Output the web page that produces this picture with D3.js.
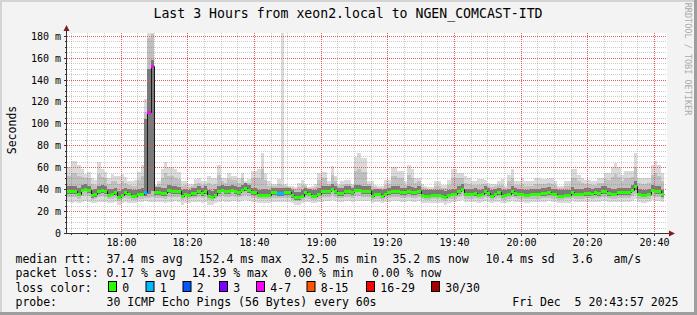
<!DOCTYPE html>
<html>
<head>
<meta charset="utf-8">
<script src="https://cdn.jsdelivr.net/npm/d3@7/dist/d3.min.js"></script>
<style>
body { margin: 0; background: #f3f3f3; }
svg text { font-family: "DejaVu Sans Mono", monospace; fill: #000; white-space: pre; }
</style>
</head>
<body>
<svg id="graph"></svg>
<script>
// one value per minute, 17:44 .. 20:42, milliseconds
var median = [38.5,38.5,38,36,39.5,40.5,39,34.5,35.5,38,
 39,38,35,36,37,33,35,37,36,34,
 34,36,36,37,110,152,37.5,37.5,36.5,36.5,
 39,38,38,38,34,36,35,36.5,36.5,38,
 36.5,38,34,33,35,38,39.5,38,38,39.5,
 38.5,37.5,39.5,41,39,37,37,35,35,35,
 35,37,37,36.5,36.5,37,37,34.5,32.5,32.5,
 34,37,36,34,34,36,38,38,38,40.5,
 38,36.5,36.5,38,38,37,39.5,39.5,38,38.5,
 38,34,36,36,34,36,37,38,38,38,
 37,37,38.5,37.5,37,38.5,35,34,34,35,
 35,35,34,33,35,36,36,38.5,40.5,36,
 36,36,36.5,35,36,38,36.5,34,36,37,
 34,34.5,36,38.5,36.5,36,36,35,35,36,
 36,36,36.5,36.5,37.5,36,36,34,34,35,
 35,37.5,36,36,36,36.5,36.5,36,37,36.5,
 38,38.5,36.5,36,36,37,37,37,37,39.5,
 42.5,36,35,35,36,39.5,38.5,38,35.2];

// smoke: spread of the 30 pings in each minute
var pMin = [28,27,28,27,28,29,28,27,27,28,
 28,28,27,27,28,26,27,28,27,27,
 27,28,28,29,28,28,28,28,28,27,
 28,28,29,28,26,27,27,28,28,28,
 27,28,26,26,27,28,29,28,28,29,
 29,28,29,30,29,28,28,27,27,27,
 27,28,28,28,28,28,28,27,26,26,
 27,28,28,27,27,28,28,29,29,30,
 29,28,28,29,29,28,29,29,29,29,
 29,27,28,28,27,28,28,29,29,29,
 28,28,29,28,28,29,27,27,27,27,
 27,27,27,26,27,28,28,29,30,28,
 28,28,28,27,28,29,28,27,28,28,
 27,27,28,29,28,28,28,27,27,28,
 28,28,28,28,29,28,28,27,27,27,
 27,29,28,28,28,28,28,28,28,28,
 29,29,28,28,28,28,28,28,28,29,
 31,28,27,27,28,30,29,29,28];
var p10 = [33,33,33,31,34,35,34,30,31,33,
 34,33,31,31,32,29,31,32,31,30,
 30,31,31,32,32,33,32,32,32,31,
 33,33,33,33,30,31,31,32,32,33,
 32,33,30,29,31,33,34,33,33,34,
 33,33,34,35,34,32,32,31,31,31,
 31,32,32,32,32,32,32,30,29,29,
 30,32,31,30,30,31,33,33,33,35,
 33,32,32,33,33,32,34,34,33,33,
 33,30,31,31,30,31,32,33,33,33,
 32,32,33,32,32,33,31,30,30,31,
 31,31,30,29,31,31,31,33,35,31,
 31,31,32,31,31,33,32,30,31,32,
 30,30,31,33,32,31,31,31,31,31,
 31,31,32,32,32,31,31,30,30,31,
 31,32,31,31,31,32,32,31,32,32,
 33,33,32,31,31,32,32,32,32,34,
 36,31,31,31,31,34,33,33,31];
var p25 = [36,36,35.5,33.5,37,38,36.5,32,33,35.5,
 36.5,35.5,32.5,33.5,34.5,31,32.5,34.5,33.5,32,
 32,33.5,33.5,34,36,38,35,35,34,34,
 36.5,35.5,35.5,35.5,32,33.5,32.5,34,34,35.5,
 34,35.5,32,31,32.5,35.5,37,35.5,35.5,37,
 36,35,37,38.5,36.5,34.5,34.5,32.5,32.5,32.5,
 32.5,34.5,34.5,34,34,34.5,34.5,32,30.5,30.5,
 32,34.5,33.5,32,32,33.5,35.5,35.5,35.5,38,
 35.5,34,34,35.5,35.5,34.5,37,37,35.5,36,
 35.5,32,33.5,33.5,32,33.5,34.5,35.5,35.5,35.5,
 34.5,34.5,36,35,34.5,36,32.5,32,32,32.5,
 32.5,32.5,32,31,32.5,33.5,33.5,36,38,33.5,
 33.5,33.5,34,32.5,33.5,35.5,34,32,33.5,34.5,
 32,32.5,33.5,36,34,33.5,33.5,32.5,32.5,33.5,
 33.5,33.5,34,34,35,33.5,33.5,32,32,32.5,
 32.5,35,33.5,33.5,33.5,34,34,33.5,34.5,34,
 35.5,36,34,33.5,33.5,34.5,34.5,34.5,34.5,37,
 39.5,33.5,32.5,32.5,33.5,37,36,35.5,32.5];
var p75 = [43,43,42.5,41,43.5,44.5,43,39.5,40,43,
 43.5,42.5,40,40.5,41.5,38,40,41.5,40.5,39,
 39,40.5,41,104,150,158,42,42,41,41.5,
 43.5,42.5,42.5,42,39,40.5,39.5,41,41,42.5,
 41,42.5,39,38,40,42.5,44,42.5,42.5,44,
 43,42,44,45.5,43.5,41.5,41.5,39.5,40,40,
 39.5,41.5,41.5,41,41,41.5,41,39,37.5,37.5,
 39,41.5,40.5,39,39,41,42.5,42.5,42.5,45,
 42.5,41,41,42.5,42.5,41.5,44,44,42.5,43,
 42.5,39,40.5,40.5,39,40.5,41.5,42.5,42.5,42.5,
 41.5,41.5,43,42,41.5,43,39.5,39,39,39.5,
 39.5,39.5,39,38,39.5,40.5,40.5,43,45,40.5,
 40.5,40.5,41,39.5,40.5,42.5,41,39,40.5,41.5,
 39,39.5,40.5,43,41,40.5,40.5,39.5,39.5,40.5,
 40.5,40.5,41,41,42,40.5,40.5,39,39,39.5,
 39.5,42,40.5,40.5,40.5,41,41,40.5,41.5,41,
 42.5,43,41,40.5,40.5,41.5,41.5,41.5,41.5,44,
 47,40.5,39.5,39.5,40.5,44,43,42.5,39.5];
var p90 = [52,55,55,52,51,50,50,45,44,54,
 51,50,45,47,47,45,47,46,44,43,
 43,48,52,110,178,182,43,45,50,55,
 52,52,50,49,43,44,42,43,45,46,
 44,45,46,44,45,53,47,46,49,48,
 48,46,50,46,46,50,50,50,58,48,
 43,43,43,45,44,43,42,41,40,42,
 44,43,41,41,42,48,50,50,45,53,
 47,43,44,45,45,43,57,58,56,56,
 45,43,42,41,41,44,45,52,52,50,
 50,44,53,50,46,47,42,41,40,40,
 43,43,41,41,44,50,50,50,50,46,
 45,44,44,44,45,45,43,42,43,44,
 44,41,47,50,44,44,45,43,43,43,
 45,45,45,45,46,45,44,41,41,43,
 43,50,50,47,46,45,45,44,44,46,
 46,49,48,51,54,51,47,50,50,51,
 60,46,45,45,46,53,55,52,47];
var pMax = [60,66,66,62,58,54,56,50,48,65,
 58,56,50,54,52,52,54,51,47,47,
 48,56,62,122,190,190,44,47,58,65,
 60,60,58,56,47,47,45,45,49,50,
 47,47,52,50,50,62,50,50,55,52,
 52,50,55,47,49,57,57,58,73,55,
 47,45,45,49,190,45,43,43,42,46,
 48,45,42,43,45,55,56,56,47,61,
 52,45,47,48,48,45,69,73,68,68,
 47,47,44,43,43,48,48,60,60,57,
 57,47,62,58,50,50,45,43,42,42,
 47,47,44,44,48,58,58,55,55,52,
 50,47,47,49,49,48,46,45,45,47,
 49,43,53,58,47,47,50,47,47,47,
 50,50,49,49,50,50,47,43,43,47,
 47,58,58,53,50,48,48,47,47,50,
 50,55,55,60,64,60,53,57,57,57,
 73,50,50,50,50,62,66,62,55];

// [minute index, lost pings out of 30]
var lossEvents = [[23, 1], [24, 4], [25, 4], [63, 1], [64, 1]];

var lossLabels = ["0", "1", "2", "3", "4-7", "8-15", "16-29", "30/30"];
var lossColors = ["#26ff00", "#00b8ff", "#0059ff", "#7e00ff", "#ff00ff", "#ff5500", "#ff0000", "#a10000"];

var yTicks = [0, 20, 40, 60, 80, 100, 120, 140, 160, 180];
var yTickLabels = ["0", "20 m", "40 m", "60 m", "80 m", "100 m", "120 m", "140 m", "160 m", "180 m"];

var title = "Last 3 Hours from xeon2.local to NGEN_COMCAST-ITD";
var rttLegend = ["median rtt:", "37.4 ms avg", "152.4 ms max", "32.5 ms min", "35.2 ms now", "10.4 ms sd", "3.6", "am/s"];
var lossLegend = ["packet loss:", "0.17 % avg", "14.39 % max", "0.00 % min", "0.00 % now"];
var probeLegend = ["probe:", "30 ICMP Echo Pings (56 Bytes) every 60s", "Fri Dec  5 20:43:57 2025"];

var screen = {width: 697, height: 315};
var plot = {left: 67, right: 667, top: 33, bottom: 233};

var svg = d3.select("#graph")
    .attr("width", screen.width)
    .attr("height", screen.height);

var start = new Date(2025, 11, 5, 17, 43, 57);
var end = new Date(2025, 11, 5, 20, 43, 57);
var first = new Date(2025, 11, 5, 17, 44, 0);

var xScale = d3.scaleTime()
    .domain([start, end])
    .range([plot.left, plot.right])
    .interpolate(d3.interpolateRound);
var yScale = d3.scaleLinear()
    .domain([0, 182.5])
    .range([plot.bottom, plot.top])
    .interpolate(d3.interpolateRound);

var lossAt = median.map(function() { return 0; });
lossEvents.forEach(function(e) { lossAt[e[0]] = e[1]; });

var bucket = function(n)
{
    if (n >= 30) return 7;
    if (n >= 16) return 6;
    if (n >= 8) return 5;
    if (n >= 4) return 4;
    return n;
}

var rows = median.map(function(m, i)
{
    return {t: d3.timeMinute.offset(first, i), t2: d3.timeMinute.offset(first, i + 1),
        med: m, min: pMin[i], p10: p10[i], p25: p25[i], p75: p75[i], p90: p90[i], max: pMax[i], loss: lossAt[i]};
});
// step curves need a closing point at the end of the last minute
var stepRows = rows.concat([Object.assign({}, rows[rows.length - 1], {t: rows[rows.length - 1].t2})]);

// frame
svg.append("rect").attr("width", screen.width).attr("height", screen.height).attr("fill", "#f3f3f3");
svg.append("rect").attr("x", 0).attr("y", 0).attr("width", screen.width).attr("height", 2).attr("fill", "#d4d4d4");
svg.append("rect").attr("x", 0).attr("y", 0).attr("width", 2).attr("height", screen.height).attr("fill", "#d4d4d4");
svg.append("rect").attr("x", screen.width - 3).attr("y", 0).attr("width", 3).attr("height", screen.height).attr("fill", "#9e9e9e");
svg.append("rect").attr("x", 0).attr("y", screen.height - 3).attr("width", screen.width).attr("height", 3).attr("fill", "#9e9e9e");

svg.append("rect")
    .attr("x", plot.left).attr("y", plot.top)
    .attr("width", plot.right - plot.left).attr("height", plot.bottom - plot.top)
    .attr("fill", "#ffffff");

svg.append("clipPath").attr("id", "clip")
    .append("rect")
    .attr("x", plot.left).attr("y", plot.top)
    .attr("width", plot.right - plot.left).attr("height", plot.bottom - plot.top);

// smoke
var layers = [["min", "max", "#dadada"], ["p10", "p90", "#c0c0c0"], ["p25", "p75", "#7a7a7a"]];
var smoke = svg.append("g").attr("clip-path", "url(#clip)");
layers.forEach(function(l)
{
    var area = d3.area()
        .x(function(d) { return xScale(d.t); })
        .y0(function(d) { return yScale(d[l[0]]); })
        .y1(function(d) { return yScale(d[l[1]]); })
        .curve(d3.curveStepAfter);
    smoke.append("path").datum(stepRows).attr("d", area).attr("fill", l[2]);
});

// grid
var grid = svg.append("g").attr("stroke-dasharray", "1,1").attr("shape-rendering", "crispEdges");
var minorT = xScale.ticks(d3.timeMinute.every(5)).filter(function(t) { return t.getMinutes() % 20 != 0; });
var majorT = xScale.ticks(d3.timeMinute.every(20));
var minorV = d3.range(5, 185, 5).filter(function(v) { return v % 20 != 0; });
var majorV = yTicks.filter(function(v) { return v > 0; });
var minorColor = "rgba(110,110,110,0.35)";
var majorColor = "#e65c5c";

grid.selectAll(".vminor").data(minorT).enter().append("line")
    .attr("x1", function(d) { return xScale(d) + 0.5; }).attr("x2", function(d) { return xScale(d) + 0.5; })
    .attr("y1", plot.top).attr("y2", plot.bottom)
    .attr("stroke", minorColor);
grid.selectAll(".hminor").data(minorV).enter().append("line")
    .attr("x1", plot.left).attr("x2", plot.right)
    .attr("y1", function(d) { return yScale(d) + 0.5; }).attr("y2", function(d) { return yScale(d) + 0.5; })
    .attr("stroke", minorColor);
grid.selectAll(".vmajor").data(majorT).enter().append("line")
    .attr("x1", function(d) { return xScale(d) + 0.5; }).attr("x2", function(d) { return xScale(d) + 0.5; })
    .attr("y1", plot.top).attr("y2", plot.bottom)
    .attr("stroke", majorColor);
grid.selectAll(".hmajor").data(majorV).enter().append("line")
    .attr("x1", plot.left).attr("x2", plot.right)
    .attr("y1", function(d) { return yScale(d) + 0.5; }).attr("y2", function(d) { return yScale(d) + 0.5; })
    .attr("stroke", majorColor);

// median line + loss colour
var med = svg.append("g").attr("clip-path", "url(#clip)");
var medLine = d3.line()
    .x(function(d) { return xScale(d.t); })
    .y(function(d) { return yScale(d.med); })
    .curve(d3.curveStepAfter);
med.append("path").datum(stepRows).attr("d", medLine)
    .attr("transform", "translate(0.5,0.5)")
    .attr("fill", "none").attr("stroke", "#1a1a1a").attr("stroke-width", 1);
med.selectAll("rect").data(rows).enter().append("rect")
    .attr("x", function(d) { return xScale(d.t); })
    .attr("width", function(d) { return xScale(d.t2) - xScale(d.t); })
    .attr("y", function(d) { return yScale(d.med) - 1; })
    .attr("height", 3)
    .attr("shape-rendering", "crispEdges")
    .attr("fill", function(d) { return lossColors[bucket(d.loss)]; });

// axes
var axisColor = "#333333";
var xMinor = svg.append("g").attr("transform", "translate(0," + plot.bottom + ")")
    .call(d3.axisBottom(xScale).ticks(d3.timeMinute.every(5)).tickSize(2).tickFormat(""));
var xMajor = svg.append("g").attr("transform", "translate(0," + plot.bottom + ")")
    .call(d3.axisBottom(xScale).ticks(d3.timeMinute.every(20)).tickSize(3).tickPadding(3)
        .tickFormat(d3.timeFormat("%H:%M")));
var yMinor = svg.append("g").attr("transform", "translate(" + plot.left + ",0)")
    .call(d3.axisLeft(yScale).tickValues(d3.range(0, 185, 5)).tickSize(2).tickFormat(""));
var yMajor = svg.append("g").attr("transform", "translate(" + plot.left + ",0)")
    .call(d3.axisLeft(yScale).tickValues(yTicks).tickSize(3).tickPadding(3)
        .tickFormat(function(d, i) { return yTickLabels[i]; }));

[xMinor, xMajor, yMinor, yMajor].forEach(function(g)
{
    g.select(".domain").remove();
    g.selectAll("line").attr("stroke", axisColor).attr("shape-rendering", "crispEdges");
    g.selectAll("text").attr("font-family", "DejaVu Sans Mono").attr("font-size", "10px").attr("fill", "#000");
});

svg.append("line")
    .attr("x1", plot.left - 0.5).attr("x2", plot.left - 0.5)
    .attr("y1", plot.bottom + 1).attr("y2", 30)
    .attr("stroke", axisColor);
svg.append("line")
    .attr("x1", plot.left - 1).attr("x2", 670)
    .attr("y1", plot.bottom + 0.5).attr("y2", plot.bottom + 0.5)
    .attr("stroke", axisColor);
svg.append("path").attr("d", "M63.5,31 L69.5,31 L66.5,25 Z").attr("fill", "#7f1f1f");
svg.append("path").attr("d", "M669,230.5 L669,236.5 L675,233.5 Z").attr("fill", "#7f1f1f");

// texts
svg.append("text")
    .attr("x", 348).attr("y", 17.5)
    .attr("text-anchor", "middle")
    .style("font-size", "13.2px")
    .text(title);

svg.append("text")
    .attr("transform", "translate(15.5,130) rotate(-90)")
    .attr("text-anchor", "middle")
    .style("font-size", "11.5px")
    .text("Seconds");

svg.append("text")
    .attr("transform", "translate(685,59) rotate(90)")
    .attr("text-anchor", "middle")
    .style("font-size", "8.5px")
    .style("fill", "#aaaaaa")
    .text("RRDTOOL / TOBI OETIKER");

var legendRow = function(texts, xs, y)
{
    svg.append("g").selectAll("text")
        .data(texts)
        .enter()
        .append("text")
        .attr("x", function(d, i) { return xs[i]; })
        .attr("y", y)
        .style("font-size", "11.5px")
        .text(function(d) { return d; });
}

legendRow(rttLegend, [15.5, 106.5, 198.7, 301, 392.5, 485.5, 572, 613.5], 263);
legendRow(lossLegend, [15.5, 106.5, 191.7, 284.3, 372], 277.2);
legendRow(["loss color:"], [15.5], 291.5);
legendRow(probeLegend, [15.5, 106.5, 512.3], 305.7);

var boxX = [108, 145.5, 182.5, 219, 256, 306.5, 366, 431];
var lc = svg.append("g").selectAll("g")
    .data(lossLabels)
    .enter()
    .append("g")
    .attr("transform", function(d, i) { return "translate(" + boxX[i] + ",0)"; });
lc.append("rect")
    .attr("x", 0.5).attr("y", 281.5)
    .attr("width", 8).attr("height", 10)
    .attr("fill", function(d, i) { return lossColors[i]; })
    .attr("stroke", "#000");
lc.append("text")
    .attr("x", 14.3).attr("y", 291.5)
    .style("font-size", "11.5px")
    .text(function(d) { return d; });
</script>
</body>
</html>
